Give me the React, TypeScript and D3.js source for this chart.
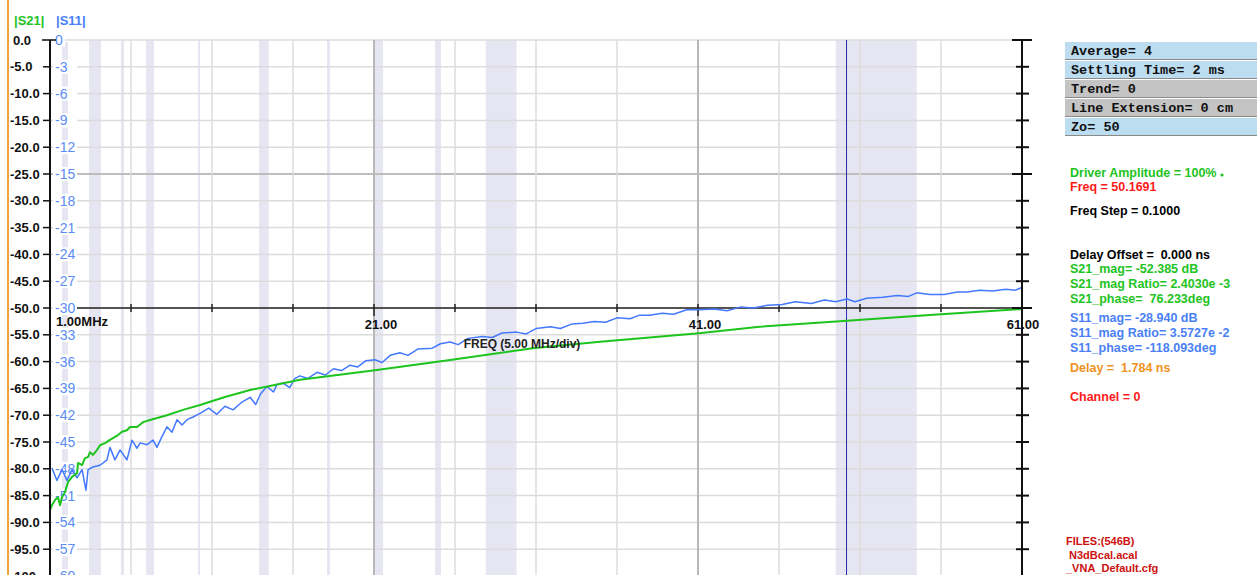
import React from "react";
import * as d3 from "d3";

// ---- data ----
const s21Freq = [1.0, 1.12, 1.31, 1.49, 1.62, 1.74, 1.93, 2.11, 2.36, 2.67, 2.73, 2.98, 3.16, 3.35, 3.47, 3.65, 3.9, 4.09, 4.4, 4.7, 5.2, 5.44, 5.75, 5.94, 6.37, 6.74, 7.17, 8.22, 9.21, 10.26, 11.8, 13.35, 16.43, 21.06, 25.7, 30.8, 34.95, 41.06, 44.8, 50.2, 55.3, 61.0];
const s21Db = [-87.7, -86.8, -85.8, -85.3, -86.8, -85.3, -84.3, -82.5, -81.5, -80.8, -78.9, -79.3, -78.0, -77.8, -76.9, -77.4, -76.5, -75.6, -75.2, -74.6, -73.7, -73.1, -72.8, -72.2, -72.2, -71.3, -70.9, -70.0, -69.0, -68.1, -66.6, -65.3, -63.4, -61.6, -59.7, -57.5, -56.3, -54.7, -53.5, -52.4, -51.3, -50.2];

const s11Freq = [1.12, 1.43, 1.74, 2.05, 2.36, 2.67, 2.98, 3.22, 3.35, 3.65, 4.09, 4.52, 4.7, 5.01, 5.32, 5.75, 6.06, 6.37, 6.56, 6.99, 7.36, 7.6, 7.91, 8.22, 8.53, 8.84, 9.15, 9.46, 9.83, 10.26, 10.8, 11.3, 11.8, 12.3, 12.8, 13.35, 13.7, 14.0, 14.4, 14.8, 15.0, 15.38, 15.8, 16.1, 16.43, 16.9, 17.48, 18.0, 18.5, 19.0, 19.52, 20.0, 20.5, 21.06, 21.5, 22.0, 22.6, 23.1, 23.7, 24.6, 25.1, 25.7, 26.2, 26.8, 27.7, 28.3, 28.9, 29.8, 30.4, 31.0, 31.9, 32.5, 33.2, 33.9, 34.6, 35.3, 36.0, 36.8, 37.4, 38.0, 38.8, 39.5, 40.3, 41.1, 42.0, 42.8, 43.6, 44.4, 45.3, 46.2, 47.0, 48.0, 48.8, 49.5, 50.2, 50.7, 51.4, 52.4, 53.3, 54.0, 54.5, 55.3, 56.2, 57.0, 57.6, 58.4, 59.2, 60.0, 60.6, 61.0];
const s11Db = [-47.9, -49.3, -48.1, -49.3, -48.1, -49.0, -48.1, -50.4, -48.1, -47.8, -47.6, -47.0, -45.6, -47.0, -45.9, -47.0, -44.8, -45.7, -45.1, -45.3, -44.8, -45.6, -44.4, -43.3, -43.9, -42.5, -43.1, -42.5, -42.2, -41.8, -41.2, -41.9, -41.0, -41.4, -40.6, -40.0, -40.8, -39.6, -38.8, -39.4, -38.6, -38.4, -38.9, -37.9, -37.6, -37.9, -37.2, -37.5, -36.8, -37.0, -36.4, -36.6, -35.9, -35.8, -36.1, -35.3, -35.0, -35.3, -34.6, -34.5, -34.0, -33.8, -34.1, -33.4, -33.2, -33.3, -32.8, -32.7, -32.9, -32.3, -32.1, -32.3, -31.8, -31.7, -31.5, -31.6, -31.1, -31.2, -30.8, -30.8, -30.6, -30.7, -30.2, -30.2, -30.1, -30.3, -29.9, -30.0, -29.7, -29.6, -29.3, -29.5, -29.1, -29.3, -28.99, -29.3, -28.9, -28.8, -28.6, -28.7, -28.3, -28.5, -28.5, -28.2, -28.2, -28.0, -28.1, -27.9, -28.0, -27.7];

const leftTicks = d3.range(0, -101, -5);
const rightTicks = d3.range(0, -61, -3);
const freqTicks = d3.range(1, 62, 5);
const freqLabels = [21, 41, 61];
const shadedBands: [number, number][] = [
  [3.41, 4.15], [5.38, 5.57], [6.93, 7.42], [10.14, 10.26], [13.9, 14.5], [18.1, 18.28], [21.06, 21.56], [24.77, 25.14], [27.9, 29.8], [49.5, 54.5],
];
const markerFreq = 50.1691;

const panelRows = [
  { text: "Average= 4", fill: "#bcdcf0" },
  { text: "Settling Time= 2 ms", fill: "#bcdcf0" },
  { text: "Trend= 0", fill: "#c4c4c4" },
  { text: "Line Extension= 0 cm", fill: "#c4c4c4" },
  { text: "Zo= 50", fill: "#bcdcf0" },
];

const infoLines = [
  { text: "Driver Amplitude = 100%", color: "#22c322", y: 177 },
  { text: "Freq = 50.1691", color: "#ff1a1a", y: 191 },
  { text: "Freq Step = 0.1000", color: "#000000", y: 215 },
  { text: "Delay Offset =  0.000 ns", color: "#000000", y: 259 },
  { text: "S21_mag= -52.385 dB", color: "#22c322", y: 273 },
  { text: "S21_mag Ratio= 2.4030e -3", color: "#22c322", y: 288 },
  { text: "S21_phase=  76.233deg", color: "#22c322", y: 303 },
  { text: "S11_mag= -28.940 dB", color: "#4a7ff5", y: 322 },
  { text: "S11_mag Ratio= 3.5727e -2", color: "#4a7ff5", y: 337 },
  { text: "S11_phase= -118.093deg", color: "#4a7ff5", y: 352 },
  { text: "Delay =  1.784 ns", color: "#f0921e", y: 372 },
  { text: "Channel = 0", color: "#ff1a1a", y: 401 },
];

const fileLines = ["FILES:(546B)", " N3dBcal.acal", "_VNA_Default.cfg"];

export default function App() {
  const W = 1257, H = 575;
  const x = d3.scaleLinear().domain([1, 61]).range([50, 1022]);
  const yL = d3.scaleLinear().domain([0, -100]).range([40, 576]);
  const yR = d3.scaleLinear().domain([0, -60]).range([40, 576]);

  const s21 = s21Freq.map((f, i) => [f, s21Db[i]] as [number, number]);
  const s11 = s11Freq.map((f, i) => [f, s11Db[i]] as [number, number]);
  const lineL = d3.line<[number, number]>().x((d) => x(d[0])).y((d) => yL(d[1]));
  const lineR = d3.line<[number, number]>().x((d) => x(d[0])).y((d) => yR(d[1]));

  const axisY = yL(-50);
  const xRight = x(61);
  const font = "'Liberation Sans', Arial, sans-serif";

  return (
    <svg width={W} height={H} style={{ position: "absolute", left: 0, top: 0, background: "#fff" }} fontFamily={font}>
      <rect x={0} y={0} width={W} height={H} fill="#fff" />
      {/* shaded bands */}
      {shadedBands.map(([a, b], i) => (
        <rect key={"b" + i} x={x(a)} y={40} width={x(b) - x(a)} height={H - 40} fill="#e6e6f3" />
      ))}
      {/* stripe behind blue labels */}
      <rect x={62} y={42} width={6} height={H - 42} fill="#e6e6f3" />
      {/* horizontal grid */}
      {leftTicks.map((t) => (
        <line key={"h" + t} x1={50} x2={xRight} y1={yL(t)} y2={yL(t)} stroke={t === -25 ? "#bdbdbd" : "#dcdcdc"} strokeWidth={t === -25 ? 2 : 1.5} />
      ))}
      {/* vertical grid */}
      {freqTicks.map((f) => (
        <line key={"v" + f} x1={x(f)} x2={x(f)} y1={40} y2={H} stroke={f === 21 || f === 41 ? "#b8b8b8" : "#dcdcdc"} strokeWidth={f === 21 || f === 41 ? 2 : 1.5} />
      ))}
      {/* marker line */}
      <line x1={x(markerFreq)} x2={x(markerFreq)} y1={40} y2={H} stroke="#2a2aa8" strokeWidth={1} />
      {/* x axis line at -50 dB */}
      <line x1={77} x2={xRight + 10} y1={axisY} y2={axisY} stroke="#222" strokeWidth={1.5} />
      {freqTicks.map((f) => (
        <line key={"xt" + f} x1={x(f)} x2={x(f)} y1={axisY - 4} y2={axisY + (f === 21 || f === 41 ? 8 : 4)} stroke="#222" strokeWidth={1.5} />
      ))}
      {/* blue labels with white backgrounds */}
      {rightTicks.map((t) => (
        <g key={"r" + t}>
          <rect x={53} y={yR(t) - 7} width={t === 0 ? 12 : 24} height={14} fill="#fff" />
          <text x={55} y={yR(t) + 5} fill="#5a8cf5" fontSize={14}>{t === 0 ? "0" : String(t)}</text>
        </g>
      ))}
      {/* traces */}
      <path d={lineR(s11) || ""} fill="none" stroke="#4479ff" strokeWidth={1.5} strokeLinejoin="round" />
      <path d={lineL(s21) || ""} fill="none" stroke="#1ec41e" strokeWidth={2} strokeLinejoin="round" />
      {/* left axis */}
      <line x1={8} x2={8} y1={0} y2={H} stroke="#f0a23c" strokeWidth={2} />
      <line x1={50} x2={50} y1={40} y2={H} stroke="#111" strokeWidth={2} />
      {leftTicks.map((t) => (
        <g key={"l" + t}>
          <line x1={t === 0 ? 42 : 43} x2={t === 0 ? 56 : 50} y1={yL(t)} y2={yL(t)} stroke="#111" strokeWidth={1.5} />
          <text x={t === 0 ? 13 : 10} y={yL(t) + 4.5} fill="#111" fontSize={13} fontWeight="bold">{t === 0 ? "0.0" : t === -100 ? "-100" : t.toFixed(1)}</text>
        </g>
      ))}
      {/* right axis */}
      <line x1={xRight} x2={xRight} y1={40} y2={H} stroke="#111" strokeWidth={2} />
      {leftTicks.map((t) => {
        const long = t === 0 || t === -25 || t === -50;
        return <line key={"rt" + t} x1={xRight - (long ? 10 : 6)} x2={xRight + (long ? 10 : 7)} y1={yL(t)} y2={yL(t)} stroke="#111" strokeWidth={2} />;
      })}
      {/* x labels */}
      <text x={56} y={326} fontSize={13} fontWeight="bold" fill="#111">1.00MHz</text>
      {freqLabels.map((f) => (
        <text key={"xl" + f} x={f === 61 ? x(f) + 1 : x(f) + 7} y={329} fontSize={13} fontWeight="bold" fill="#111" textAnchor="middle">{f.toFixed(2)}</text>
      ))}
      <text x={522} y={348} fontSize={12} fontWeight="bold" fill="#222" textAnchor="middle">FREQ (5.00 MHz/div)</text>
      {/* series names */}
      <text x={14} y={25} fontSize={13} fontWeight="bold" fill="#22c322">|S21|</text>
      <text x={56} y={25} fontSize={13} fontWeight="bold" fill="#4a7ff5">|S11|</text>
      {/* right panel */}
      {panelRows.map((r, i) => (
        <g key={"p" + i}>
          <rect x={1065} y={42 + i * 19} width={W - 1065} height={17} fill={r.fill} />
          <line x1={1065} x2={W} y1={42 + i * 19 + 17.5} y2={42 + i * 19 + 17.5} stroke="#8a8a8a" strokeWidth={1} />
          <text x={1071} y={42 + i * 19 + 13} fontFamily="'Liberation Mono', 'Courier New', monospace" fontWeight="bold" fontSize={13.5} fill="#111">{r.text}</text>
        </g>
      ))}
      {infoLines.map((l, i) => (
        <text key={"i" + i} x={1070} y={l.y} fontSize={12.5} fontWeight="bold" fill={l.color} style={{ whiteSpace: "pre" }}>{l.text}</text>
      ))}
      <circle cx={1222} cy={175} r={1.6} fill="#22c322" />
      {fileLines.map((t, i) => (
        <text key={"f" + i} x={1066} y={545 + i * 13.5} fontSize={11} fontWeight="bold" fill="#cc1010" style={{ whiteSpace: "pre" }}>{t}</text>
      ))}
    </svg>
  );
}
